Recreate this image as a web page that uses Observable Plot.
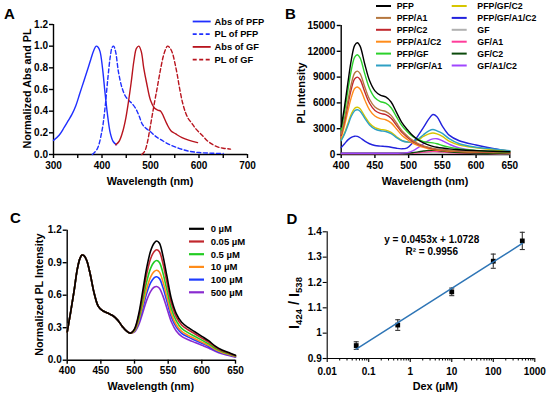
<!DOCTYPE html>
<html>
<head>
<meta charset="utf-8">
<script src="https://cdn.jsdelivr.net/npm/d3@7"></script>
<script src="https://cdn.jsdelivr.net/npm/@observablehq/plot@0.6"></script>
<style>
  body { margin: 0; background: #fff; }
  #fig { position: relative; width: 550px; height: 396px; overflow: hidden; background: #fff; }
</style>
</head>
<body>
<div id="fig"></div>
<script>
// ================= Panel A data =================
const aAbsPFP_wl = [300, 312, 322, 330, 338, 346, 354, 362, 370, 377, 383, 388, 392, 396, 401, 406, 411, 417, 423, 430];
const aAbsPFP_v  = [0.13, 0.18, 0.25, 0.31, 0.37, 0.45, 0.56, 0.67, 0.78, 0.88, 0.96, 1.0, 0.99, 0.95, 0.80, 0.58, 0.38, 0.20, 0.12, 0.09];
const aPlPFP_wl  = [380, 390, 400, 406, 412, 417, 421, 424, 428, 434, 441, 448, 455, 462, 470, 477, 483, 490, 500, 510, 520, 540, 560, 580, 600, 625, 650];
const aPlPFP_v   = [0.0, 0.05, 0.22, 0.42, 0.70, 0.90, 0.99, 1.0, 0.95, 0.76, 0.62, 0.54, 0.50, 0.47, 0.42, 0.35, 0.28, 0.245, 0.21, 0.17, 0.14, 0.09, 0.055, 0.03, 0.018, 0.012, 0.01];
const aAbsGF_wl  = [428, 435, 442, 448, 454, 460, 466, 471, 476, 481, 486, 492, 500, 508, 515, 521, 527, 534, 542, 552, 565, 580, 597];
const aAbsGF_v   = [0.09, 0.12, 0.2, 0.31, 0.47, 0.66, 0.87, 0.98, 1.0, 0.95, 0.80, 0.66, 0.50, 0.43, 0.41, 0.40, 0.35, 0.28, 0.22, 0.19, 0.155, 0.13, 0.11];
const aPlGF_wl   = [482, 488, 493, 500, 507, 514, 520, 526, 531, 535, 539, 545, 550, 555, 560, 566, 572, 578, 585, 592, 600, 608, 617, 627, 638, 650, 665];
const aPlGF_v    = [0.0, 0.03, 0.1, 0.27, 0.45, 0.62, 0.77, 0.90, 0.97, 1.0, 0.99, 0.94, 0.85, 0.74, 0.61, 0.48, 0.39, 0.33, 0.29, 0.245, 0.205, 0.17, 0.127, 0.095, 0.07, 0.058, 0.05];
const aXTicks = [300, 400, 500, 600, 700];
const aXMinor = [350, 450, 550, 650];
const aYTicks = [0, 0.2, 0.4, 0.6, 0.8, 1.0, 1.2];
const aNames = ["Abs of PFP", "PL of PFP", "Abs of GF", "PL of GF"];

// ================= Panel B data =================
const bWl = [400,405,410,415,420,424,428,435,442,450,458,466,474,482,490,498,506,514,522,530,536,542,550,560,575,600,625,650];
const bPFP        = [3200,5600,8400,11000,12700,13000,12600,10500,8600,7400,6900,6700,6100,4900,3700,2900,2200,1700,1350,1100,950,850,750,650,550,450,380,320];
const bPFP_A1     = [2390,4180,6270,8210,9480,9700,9400,7840,6420,5520,5150,5000,4550,3660,2780,2160,1640,1270,1010,820,710,630,560,490,410,340,280,240];
const bPFP_C2     = [2220,3880,5810,7620,8790,9000,8720,7270,5960,5120,4780,4640,4220,3390,2570,2010,1520,1180,940,770,660,590,520,450,380,320,260,230];
const bPFP_A1_C2  = [1930,3380,5070,6640,7670,7850,7610,6340,5200,4470,4170,4040,3680,2960,2240,1750,1330,1030,820,670,570,510,460,390,330,280,230,200];
const bPFP_GF     = [2850,5000,7490,9810,11330,11600,11240,9370,7680,6600,6160,5970,5440,4370,3350,2650,2100,1750,1500,1400,1350,1250,1050,850,650,480,380,320];
const bPFP_GF_A1  = [1600,2400,3400,4450,5080,5200,5040,4200,3440,2960,2760,2680,2440,1960,1600,1450,1500,1800,2300,2750,2900,2750,2450,1850,1250,850,650,450];
const bPFP_GF_C2  = [1700,2500,3600,4700,5380,5500,5330,4440,3640,3130,2920,2830,2580,2070,1650,1450,1450,1700,2100,2400,2500,2400,2100,1550,1100,780,560,420];
const bPFP_GF_A1_C2 = [800,1250,1700,2000,2130,2100,1950,1550,1250,1050,980,930,850,720,660,780,1350,2200,3150,4150,4650,4400,3300,2250,1600,1100,700,380];
const bGF         = [100,100,100,100,100,100,100,100,100,100,100,100,100,100,100,110,130,170,220,270,290,280,240,190,150,120,100,90];
const bGF_A1      = [120,120,120,120,120,120,120,120,120,120,120,120,120,120,120,130,160,210,280,340,360,350,300,240,180,140,120,100];
const bGF_C2      = [140,140,140,140,140,140,140,140,140,140,140,140,140,140,145,160,210,300,400,480,500,480,410,320,230,170,140,120];
const bGF_A1_C2   = [150,150,150,150,150,150,150,150,150,150,150,150,150,150,160,220,420,800,1250,1650,1820,1830,1600,1200,750,450,300,220];
const bNames  = ["PFP","PFP/A1","PFP/C2","PFP/A1/C2","PFP/GF","PFP/GF/A1","PFP/GF/C2","PFP/GF/A1/C2","GF","GF/A1","GF/C2","GF/A1/C2"];
const bSeries = [bPFP,bPFP_A1,bPFP_C2,bPFP_A1_C2,bPFP_GF,bPFP_GF_A1,bPFP_GF_C2,bPFP_GF_A1_C2,bGF,bGF_A1,bGF_C2,bGF_A1_C2];
const bColors = ["#000000","#b5773f","#c1272d","#ff8c1a","#2bd12b","#2fa0c4","#d6c600","#2222dd","#b0b0b0","#ff3c9a","#0b4a0b","#a046ff"];
const bXTicks = [400,450,500,550,600,650];
const bYTicks = [0,3000,6000,9000,12000,15000];

// ================= Panel C data =================
const cWlCommon = [400,405,410,415,419,422,425,429,434,440,446,452,460,468,475,482,488,494];
const cCommon   = [0.26,0.44,0.63,0.84,0.94,0.97,0.965,0.92,0.80,0.62,0.50,0.46,0.435,0.41,0.37,0.31,0.27,0.25];
const cWlTail   = [500,506,512,518,524,529,533,537,542,548,555,562,570,580,590,600,610,620,630,640,650];
const c0     = [0.29,0.42,0.63,0.85,1.01,1.08,1.10,1.08,0.97,0.78,0.56,0.43,0.35,0.30,0.26,0.22,0.18,0.13,0.095,0.07,0.045];
const c0_05  = [0.284,0.402,0.592,0.793,0.939,1.002,1.02,1.001,0.899,0.723,0.52,0.40,0.325,0.279,0.242,0.204,0.167,0.121,0.088,0.065,0.042];
const c0_5   = [0.277,0.379,0.545,0.722,0.85,0.905,0.92,0.902,0.81,0.652,0.47,0.362,0.294,0.252,0.219,0.185,0.151,0.109,0.08,0.059,0.038];
const c10    = [0.271,0.358,0.503,0.658,0.77,0.818,0.83,0.813,0.73,0.588,0.425,0.327,0.266,0.228,0.198,0.167,0.137,0.099,0.072,0.053,0.034];
const c100   = [0.267,0.344,0.475,0.616,0.716,0.76,0.77,0.753,0.676,0.546,0.395,0.305,0.248,0.213,0.184,0.156,0.127,0.092,0.067,0.05,0.032];
const c500   = [0.261,0.323,0.433,0.552,0.636,0.673,0.68,0.664,0.596,0.482,0.35,0.27,0.22,0.189,0.163,0.138,0.113,0.082,0.059,0.044,0.028];
const cNames  = ["0 µM","0.05 µM","0.5 µM","10 µM","100 µM","500 µM"];
const cSeries = [c0,c0_05,c0_5,c10,c100,c500];
const cColors = ["#000000","#c1272d","#22cc22","#ff8c1a","#1e3cff","#8a2bd0"];
const cXTicks = [400,450,500,550,600,650];
const cYTicks = [0,0.3,0.6,0.9,1.2];

// ================= Panel D data =================
const dDex   = [0.05, 0.5, 10, 100, 500];
const dRatio = [0.951, 1.032, 1.163, 1.284, 1.364];
const dErr   = [0.015, 0.021, 0.015, 0.028, 0.034];
const dFitX  = [0.05, 500];
const dFitY  = [0.937, 1.354];
const dXTicks = [0.01, 0.1, 1, 10, 100, 1000];
const dYTicks = [0.9, 1.0, 1.1, 1.2, 1.3, 1.4];
const dEquation = "y = 0.0453x + 1.0728";
const dR2 = "R² = 0.9956";

// ================= helpers =================
const FONT = "'Liberation Sans', Arial, Helvetica, sans-serif";
const fig = document.getElementById("fig");
const pts = (xs, ys) => xs.map((x, i) => ({x, y: ys[i]}));
const AX = 1.4;

function place(plot, left, top) {
  plot.style.position = "absolute";
  plot.style.left = left + "px";
  plot.style.top = top + "px";
  fig.appendChild(plot);
}
const baseStyle = {fontFamily: FONT, fontWeight: "bold", fontSize: "10px", background: "transparent", overflow: "visible", color: "#000"};

// ================= Panel A =================
const BLUE = "#1f2fff", RED = "#b8141e";
place(Plot.plot({
  width: 275, height: 198, marginLeft: 53, marginRight: 28, marginTop: 24, marginBottom: 44,
  style: baseStyle,
  x: {domain: [300, 700]},
  y: {domain: [0, 1.2]},
  marks: [
    Plot.axisY({ticks: aYTicks, tickFormat: d3.format(".1f"), tickSize: 4, tickPadding: 1.5, label: null, strokeWidth: AX}),
    Plot.axisX({ticks: aXTicks, tickFormat: d => String(d), tickSize: 4, tickPadding: 3, label: null, strokeWidth: AX}),
    Plot.axisX({ticks: aXMinor, tickFormat: () => "", tickSize: 4, label: null, strokeWidth: AX}),
    Plot.ruleX([300], {strokeWidth: AX}),
    Plot.ruleY([0], {strokeWidth: AX}),
    Plot.line(pts(aAbsPFP_wl, aAbsPFP_v), {x: "x", y: "y", stroke: BLUE, strokeWidth: 1.4, curve: "catmull-rom"}),
    Plot.line(pts(aPlPFP_wl, aPlPFP_v), {x: "x", y: "y", stroke: BLUE, strokeWidth: 1.4, strokeDasharray: "4,2.5", curve: "catmull-rom"}),
    Plot.line(pts(aAbsGF_wl, aAbsGF_v), {x: "x", y: "y", stroke: RED, strokeWidth: 1.4, curve: "catmull-rom"}),
    Plot.line(pts(aPlGF_wl, aPlGF_v), {x: "x", y: "y", stroke: RED, strokeWidth: 1.4, strokeDasharray: "4,2.5", curve: "catmull-rom"})
  ]
}), 0, 0);

// ================= Panel B =================
const bData = [];
bSeries.forEach((s, k) => s.forEach((v, i) => bData.push({wl: bWl[i], v, name: bNames[k]})));
const bOrder = [8, 9, 10, 11, 7, 6, 5, 3, 2, 1, 4, 0];
place(Plot.plot({
  width: 275, height: 198, marginLeft: 65.7, marginRight: 40.7, marginTop: 25, marginBottom: 44,
  style: baseStyle,
  x: {domain: [400, 650]},
  y: {domain: [0, 15000]},
  color: {domain: bNames, range: bColors},
  marks: [
    Plot.axisY({ticks: bYTicks, tickFormat: d => String(d), tickSize: 4, tickPadding: 2, label: null, strokeWidth: AX}),
    Plot.axisX({ticks: bXTicks, tickFormat: d => String(d), tickSize: 4, tickPadding: 3.5, label: null, strokeWidth: AX}),
    Plot.ruleX([400], {strokeWidth: AX}),
    Plot.ruleY([0], {strokeWidth: AX}),
    ...bOrder.map(k => Plot.line(bData.filter(d => d.name === bNames[k]), {x: "wl", y: "v", stroke: "name", strokeWidth: 1.4, curve: "catmull-rom"}))
  ]
}), 275, 0);

// ================= Panel C =================
const cData = [];
cSeries.forEach((s, k) => {
  cWlCommon.forEach((w, i) => cData.push({wl: w, v: cCommon[i], name: cNames[k]}));
  cWlTail.forEach((w, i) => cData.push({wl: w, v: s[i], name: cNames[k]}));
});
place(Plot.plot({
  width: 275, height: 198, marginLeft: 66.7, marginRight: 40, marginTop: 31.7, marginBottom: 36.3,
  style: baseStyle,
  x: {domain: [400, 650]},
  y: {domain: [0, 1.2]},
  color: {domain: cNames, range: cColors},
  marks: [
    Plot.axisY({ticks: cYTicks, tickFormat: d3.format(".1f"), tickSize: 4, tickPadding: 1.5, label: null, strokeWidth: AX}),
    Plot.axisX({ticks: cXTicks, tickFormat: d => String(d), tickSize: 4, tickPadding: 3, label: null, strokeWidth: AX}),
    Plot.ruleX([400], {strokeWidth: AX}),
    Plot.ruleY([0], {strokeWidth: AX}),
    ...[5, 4, 3, 2, 1, 0].map(k => Plot.line(cData.filter(d => d.name === cNames[k]), {x: "wl", y: "v", stroke: "name", strokeWidth: 1.6, curve: "catmull-rom"}))
  ]
}), 0, 198);

// ================= Panel D =================
const dMinor = [];
for (let e = -2; e <= 2; e++) for (let m = 2; m <= 9; m++) dMinor.push(m * Math.pow(10, e));
const dPts = dDex.map((x, i) => ({x, y: dRatio[i], lo: dRatio[i] - dErr[i], hi: dRatio[i] + dErr[i]}));
const capF = 1.15;
place(Plot.plot({
  width: 275, height: 198, marginLeft: 51.7, marginRight: 15.7, marginTop: 33.3, marginBottom: 38,
  style: baseStyle,
  x: {type: "log", domain: [0.01, 1000]},
  y: {domain: [0.9, 1.4]},
  marks: [
    Plot.axisY({ticks: dYTicks, tickFormat: d => String(+d.toFixed(1)), tickSize: 4, tickPadding: 1.5, label: null, strokeWidth: 1.1}),
    Plot.axisX({ticks: dXTicks, tickFormat: d => String(d), tickSize: 4, tickPadding: 5, label: null, strokeWidth: 1.1}),
    Plot.axisX({ticks: dMinor, tickFormat: () => "", tickSize: 2.5, label: null, strokeWidth: 1}),
    Plot.ruleX([0.01], {strokeWidth: 1.1}),
    Plot.ruleY([0.9], {strokeWidth: 1.1}),
    Plot.ruleX(dPts, {x: "x", y1: "lo", y2: "hi", stroke: "#333", strokeWidth: 1.1}),
    Plot.link(dPts, {x1: d => d.x / capF, x2: d => d.x * capF, y1: "hi", y2: "hi", stroke: "#333", strokeWidth: 1.1}),
    Plot.link(dPts, {x1: d => d.x / capF, x2: d => d.x * capF, y1: "lo", y2: "lo", stroke: "#333", strokeWidth: 1.1}),
    Plot.dot(dPts, {x: "x", y: "y", symbol: "square", r: 2.7, fill: "#000", stroke: "none"}),
    Plot.line(pts(dFitX, dFitY), {x: "x", y: "y", stroke: "#2e75b6", strokeWidth: 1.5})
  ]
}), 275, 198);

// ================= Overlay: letters, titles, legends =================
const ov = d3.select("#fig").append("svg")
  .attr("width", 550).attr("height", 396)
  .style("position", "absolute").style("left", "0px").style("top", "0px")
  .attr("font-family", FONT).attr("font-weight", "bold").attr("fill", "#000");

function label(x, y, str, size, anchor = "middle", rotate = 0) {
  return ov.append("text")
    .attr("transform", `translate(${x},${y}) rotate(${rotate})`)
    .attr("text-anchor", anchor).attr("dy", "0.35em")
    .attr("font-size", size).text(str);
}
function swatch(x1, x2, y, color, dash, w = 2) {
  ov.append("line").attr("x1", x1).attr("x2", x2).attr("y1", y).attr("y2", y)
    .attr("stroke", color).attr("stroke-width", w).attr("stroke-dasharray", dash || null);
}

// panel letters
label(9.5, 13.5, "A", 15);
label(290.3, 13.5, "B", 15);
label(15.3, 217.7, "C", 15);
label(292, 218.3, "D", 15);

// axis titles
label(150, 181, "Wavelength (nm)", 10.8);
label(27, 88.5, "Normalized Abs and PL", 10.8, "middle", -90);
label(425, 181, "Wavelength (nm)", 10.8);
label(301.3, 93, "PL Intensity", 10.8, "middle", -90);
label(150.7, 386, "Wavelength (nm)", 10.8);
label(39.3, 294.7, "Normalized PL Intensity", 10.8, "middle", -90);
label(435.3, 386, "Dex (µM)", 10.8);

// D y title with subscripts
const dy = ov.append("text").attr("transform", "translate(294,303) rotate(-90)")
  .attr("text-anchor", "middle").attr("dy", "0.35em").attr("font-size", 14.5);
dy.append("tspan").text("I");
dy.append("tspan").attr("font-size", 9.5).attr("dy", 3).text("424");
dy.append("tspan").attr("dy", -3).text(" / I");
dy.append("tspan").attr("font-size", 9.5).attr("dy", 3).text("538");

// D equation
label(431.7, 239.7, dEquation, 10);
label(431.7, 251.3, dR2, 10);

// legend A
const aStyles = [[BLUE, null], [BLUE, "4,2.5"], [RED, null], [RED, "4,2.5"]];
aNames.forEach((n, i) => {
  const y = 21.5 + i * 12.7;
  swatch(192.7, 210.7, y, aStyles[i][0], aStyles[i][1], 1.8);
  label(214.5, y, n, 9.3, "start");
});

// legend B
bNames.forEach((n, i) => {
  const col = i < 6 ? 0 : 1, row = i % 6;
  const y = 6 + row * 11.9;
  const lx = col === 0 ? 376 : 451.7;
  const tx = col === 0 ? 396.7 : 477.3;
  swatch(lx, lx + 15, y, bColors[i], null, 2);
  label(tx, y, n, 8.8, "start");
});

// legend C
cNames.forEach((n, i) => {
  const y = 228.8 + i * 12.7;
  swatch(189, 204, y, cColors[i], null, 2.2);
  label(210.7, y, n, 9.5, "start");
});
</script>
</body>
</html>
